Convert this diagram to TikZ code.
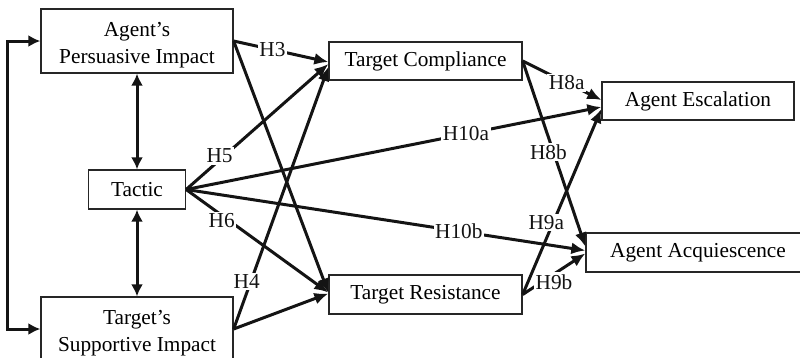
\documentclass[tikz,border=0pt]{standalone}
\usepackage{fontspec}
\setmainfont{Liberation Serif}
\usetikzlibrary{arrows.meta}
\begin{document}
\begin{tikzpicture}[x=1pt,y=-1pt,
  box/.style={draw=black!85, line width=1.3pt, inner sep=0pt, align=center, font=\fontsize{21.3}{27}\selectfont},
  conn/.style={line width=3pt, black!92},
  tip/.style={-{Latex[length=14pt,width=12pt]}},
  dtip/.style={{Latex[length=12pt,width=12pt]}-{Latex[length=12pt,width=12pt]}},
  lab/.style={fill=white, inner sep=1.5pt, font=\fontsize{21.3}{27}\selectfont}]
\useasboundingbox (0,0) rectangle (800,357);
\clip (0,0) rectangle (800,357);
% boxes
\node[box, minimum width=192pt, minimum height=64pt] (api) at (137,41) {\rule{0pt}{22pt}Agent’s\\Persuasive Impact};
\node[box, minimum width=97pt, minimum height=39pt] (tac) at (137,189.5) {Tactic};
\node[box, minimum width=192pt, minimum height=64pt] (tsi) at (137,329) {\rule{0pt}{22pt}Target’s\\Supportive Impact};
\node[box, minimum width=193pt, minimum height=38pt] (tc) at (425.5,61) {Target Compliance};
\node[box, minimum width=193pt, minimum height=39pt] (tr) at (425.5,294.5) {Target Resistance};
\node[box, minimum width=192pt, minimum height=38pt] (ae) at (698,101) {Agent Escalation};
\node[box, minimum width=224pt, minimum height=39pt] (aa) at (698,252.5) {Agent Acquiescence};
% correlations
\draw[conn,dtip] (api.west) -- ++(-33,0) |- (tsi.west);
\draw[conn,dtip] (api.south) -- (tac.north);
\draw[conn,dtip] (tac.south) -- (tsi.north);
% paths
\draw[conn,tip] (api.east) -- ([yshift=2pt]tr.west);
\draw[conn,tip] (tsi.east) -- ([yshift=1pt]tr.west);
\draw[conn,tip] (api.east) -- node[lab,pos=0.41]{H3} ([yshift=-1pt]tc.west);
\draw[conn,tip] (tac.east) -- node[lab,pos=0.235,yshift=4pt]{H5} ([yshift=-3pt]tc.west);
\draw[conn,tip] (tac.east) -- node[lab,pos=0.25,yshift=-5pt]{H6} ([yshift=2pt]tr.west);
\draw[conn,tip] (tsi.east) -- node[lab,pos=0.18,xshift=-4pt]{H4} ([yshift=-6pt]tc.west);
\draw[conn,tip] (tac.east) -- node[lab,pos=0.674]{H10a} ([yshift=-6pt]ae.west);
\draw[conn,tip] (tac.east) -- node[lab,pos=0.683]{H10b} ([yshift=2pt]aa.west);
\draw[conn,tip] (tc.east) -- node[lab,pos=0.56]{H8a} ([yshift=1pt]ae.west);
\draw[conn,tip] (tc.east) -- node[lab,pos=0.49,xshift=-5pt]{H8b} ([yshift=6pt]aa.west);
\draw[conn,tip] (tr.east) -- node[lab,pos=0.39,xshift=-7pt]{H9a} ([yshift=-8pt]ae.west);
\draw[conn,tip] (tr.east) -- node[lab,pos=0.5,yshift=-8pt,inner ysep=3pt]{H9b} ([yshift=-1pt]aa.west);
\end{tikzpicture}
\end{document}
